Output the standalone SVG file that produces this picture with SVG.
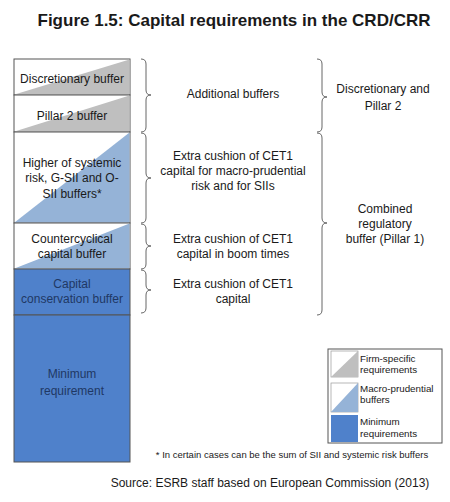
<svg xmlns="http://www.w3.org/2000/svg" width="450" height="502" viewBox="0 0 450 502">
<style>
text{font-family:"Liberation Sans",Arial,sans-serif;fill:#1a1a1a}
.t{font-size:12px;text-anchor:middle}
.dk{fill:#1f3864}
.lg{font-size:9.8px}
.box{stroke:#555;stroke-width:1;fill:#fff}
.gray{fill:#bfbfbf}
.lb{fill:#95b3d7}
.db{fill:#4f81cb}
.br{fill:none;stroke:#666;stroke-width:1}
</style>
<rect width="450" height="502" fill="#fff"/>
<text x="234" y="26" style="font-size:17px;font-weight:bold;text-anchor:middle">Figure 1.5: Capital requirements in the CRD/CRR</text>
<g id="discretionary">
<rect class="box" x="14" y="59" width="116" height="36"/>
<polygon class="gray" points="14.5,94.5 129.5,59.5 129.5,94.5"/>
<text class="t" x="72" y="83">Discretionary buffer</text>
</g>
<g id="pillar2">
<rect class="box" x="14" y="95" width="116" height="37"/>
<polygon class="gray" points="14.5,131.5 129.5,95.5 129.5,131.5"/>
<text class="t" x="72" y="120">Pillar 2 buffer</text>
</g>
<g id="systemic">
<rect class="box" x="14" y="132" width="116" height="91"/>
<polygon class="lb" points="14.5,222.5 129.5,132.5 129.5,222.5"/>
<text class="t" x="72" y="167">Higher of systemic</text>
<text class="t" x="72" y="182">risk, G-SII and O-</text>
<text class="t" x="72" y="198">SII buffers*</text>
</g>
<g id="countercyclical">
<rect class="box" x="14" y="223" width="116" height="46"/>
<polygon class="lb" points="14.5,268.5 129.5,223.5 129.5,268.5"/>
<text class="t" x="72" y="243">Countercyclical</text>
<text class="t" x="72" y="258">capital buffer</text>
</g>
<g id="conservation">
<rect class="box db" x="14" y="269" width="116" height="46"/>
<text class="t dk" x="72" y="288">Capital</text>
<text class="t dk" x="72" y="303">conservation buffer</text>
</g>
<g id="minimum">
<rect class="box db" x="14" y="315" width="116" height="147"/>
<text class="t dk" x="72" y="378">Minimum</text>
<text class="t dk" x="72" y="395">requirement</text>
</g>
<g id="connectors">
<path class="br" d="M141,59 Q146,59 146,64 L146,90 Q146,95 151,95 Q146,95 146,100 L146,127 Q146,132 141,132"/>
<path class="br" d="M141,133 Q146,133 146,138 L146,173 Q146,178 151,178 Q146,178 146,183 L146,218 Q146,223 141,223"/>
<path class="br" d="M141,224 Q146,224 146,229 L146,241 Q146,246 151,246 Q146,246 146,251 L146,264 Q146,269 141,269"/>
<path class="br" d="M141,270 Q146,270 146,275 L146,285 Q146,290 151,290 Q146,290 146,295 L146,308 Q146,313 141,313"/>
<path class="br" d="M317,59 Q322,59 322,64 L322,92 Q322,97 327,97 Q322,97 322,102 L322,127 Q322,132 317,132"/>
<path class="br" d="M317,133 Q322,133 322,138 L322,218 Q322,223 327,223 Q322,223 322,228 L322,310 Q322,315 317,315"/>
</g>
<g id="labels">
<text class="t" x="233" y="98">Additional buffers</text>
<text class="t" x="383" y="93">Discretionary and</text>
<text class="t" x="383" y="110">Pillar 2</text>
<text class="t" x="233" y="160">Extra cushion of CET1</text>
<text class="t" x="233" y="175">capital for macro-prudential</text>
<text class="t" x="233" y="190">risk and for SIIs</text>
<text class="t" x="233" y="243">Extra cushion of CET1</text>
<text class="t" x="233" y="258">capital in boom times</text>
<text class="t" x="233" y="288">Extra cushion of CET1</text>
<text class="t" x="233" y="303">capital</text>
<text class="t" x="385" y="213">Combined</text>
<text class="t" x="385" y="228">regulatory</text>
<text class="t" x="385" y="243">buffer (Pillar 1)</text>
</g>
<g id="legend">
<rect x="328" y="349" width="114" height="94" fill="#fff" stroke="#555" stroke-width="1"/>
<rect x="331" y="351" width="27" height="26" fill="#fff" stroke="#999" stroke-width="0.7"/>
<polygon class="gray" points="331,377 358,351 358,377"/>
<rect x="331" y="383" width="27" height="29" fill="#fff" stroke="#999" stroke-width="0.7"/>
<polygon class="lb" points="331,412 358,383 358,412"/>
<rect class="db" x="331" y="415" width="27" height="27"/>
<text class="lg" x="360" y="362">Firm-specific</text>
<text class="lg" x="360" y="373">requirements</text>
<text class="lg" x="360" y="392">Macro-prudential</text>
<text class="lg" x="360" y="403">buffers</text>
<text class="lg" x="360" y="425">Minimum</text>
<text class="lg" x="360" y="437">requirements</text>
</g>
<text x="292" y="458" style="font-size:9.5px;text-anchor:middle">* In certain cases can be the sum of SII and systemic risk buffers</text>
<text x="270" y="487" style="font-size:12px;text-anchor:middle">Source: ESRB staff based on European Commission (2013)</text>
</svg>
